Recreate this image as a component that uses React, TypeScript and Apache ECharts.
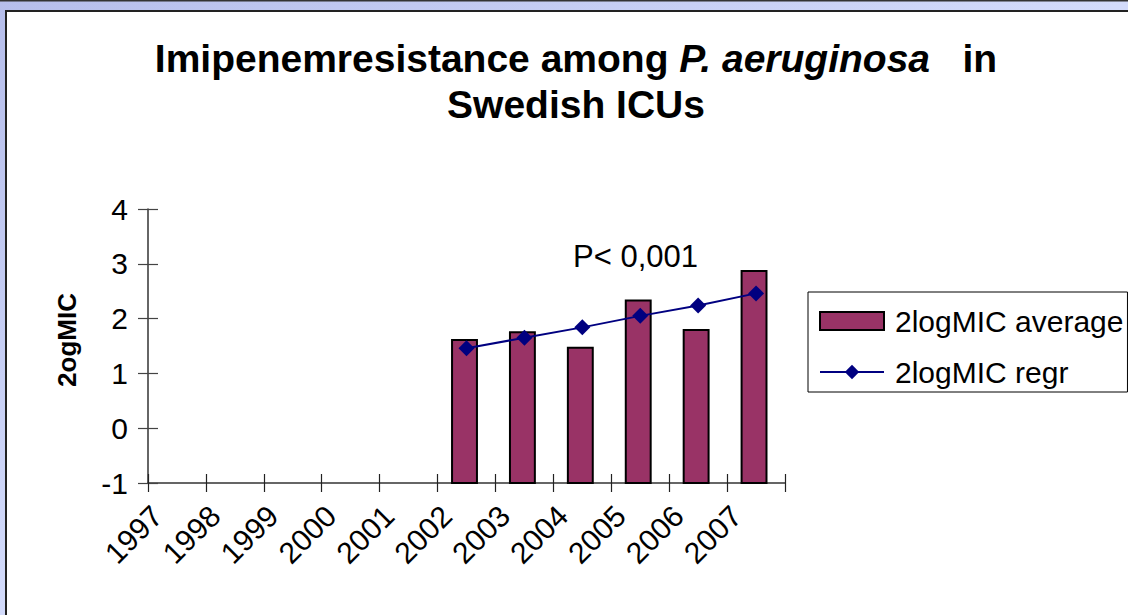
import React, { useEffect, useRef } from 'react';
import * as echarts from 'echarts';

const years = ['1997', '1998', '1999', '2000', '2001', '2002', '2003', '2004', '2005', '2006', '2007'];
const avgValues: (number | null)[] = [null, null, null, null, null, 1.61, 1.75, 1.47, 2.33, 1.79, 2.87];
const regrValues: (number | null)[] = [null, null, null, null, null, 1.46, 1.65, 1.84, 2.05, 2.24, 2.46];
const yMin = -1;
const yMax = 4;
const yInterval = 1;
const avgName = '2logMIC average';
const regrName = '2logMIC regr';
const yAxisName = '2ogMIC';
const pText = 'P< 0,001';

const FONT = '"Liberation Sans", Arial, Helvetica, sans-serif';
const BAR_COLOR = '#993366';
const LINE_COLOR = '#000080';

export default function App() {
  const ref = useRef<HTMLDivElement>(null);
  useEffect(() => {
    document.body.style.margin = '0';
    if (!ref.current) return;
    const chart = echarts.init(ref.current, null, { renderer: 'svg' });
    const barData = years
      .map((y, i) => (avgValues[i] == null ? null : [y, avgValues[i]]))
      .filter((d) => d != null);
    const option: any = {
      animation: false,
      backgroundColor: 'transparent',
      title: {
        text: '{b|Imipenemresistance among }{bi|P. aeruginosa}{b|   in}\n{b|Swedish ICUs}',
        left: 576,
        top: 35,
        padding: 0,
        textAlign: 'center',
        textStyle: {
          fontFamily: FONT,
          fontSize: 39,
          fontWeight: 'bold',
          color: '#000',
          lineHeight: 46,
          rich: {
            b: { fontFamily: FONT, fontSize: 39, fontWeight: 'bold', color: '#000', lineHeight: 46 },
            bi: { fontFamily: FONT, fontSize: 39, fontWeight: 'bold', fontStyle: 'italic', color: '#000', lineHeight: 46 },
          },
        },
      },
      graphic: [
        {
          type: 'rect',
          z: -100,
          silent: true,
          shape: { x: 0, y: 0, width: 1128, height: 615 },
          style: {
            fill: new echarts.graphic.LinearGradient(0, 0, 1, 1, [
              { offset: 0, color: '#b6beeb' },
              { offset: 0.5, color: '#d3dbfb' },
              { offset: 1, color: '#d8e0ff' },
            ]),
          },
        },
        {
          type: 'rect',
          z: -99,
          silent: true,
          shape: { x: 0, y: 0, width: 1128, height: 1.5 },
          style: { fill: '#333' },
        },
        {
          type: 'rect',
          z: -98,
          silent: true,
          shape: { x: 6, y: 11, width: 1200, height: 700 },
          style: { fill: '#fff', stroke: '#222', lineWidth: 2 },
        },
        {
          type: 'text',
          z: 10,
          x: 573,
          y: 256,
          style: {
            text: pText,
            fontFamily: FONT,
            fontSize: 31,
            fill: '#000',
            textVerticalAlign: 'middle',
          },
        },
      ],
      legend: {
        orient: 'vertical',
        left: 808,
        top: 292,
        padding: [14, 4, 5, 11],
        itemGap: 21,
        itemWidth: 64,
        itemHeight: 18,
        borderColor: '#000',
        borderWidth: 1,
        backgroundColor: '#fff',
        textStyle: { fontFamily: FONT, fontSize: 30, color: '#000', padding: [0, 0, 0, 6] },
        data: [
          { name: avgName, icon: 'rect' },
          { name: regrName },
        ],
      },
      grid: { left: 148, top: 209, width: 637, height: 274, containLabel: false },
      xAxis: [
        {
          type: 'category',
          data: years,
          boundaryGap: true,
          axisLine: { show: true, onZero: false, lineStyle: { color: '#333', width: 1.5 } },
          axisTick: { show: true, alignWithLabel: false, length: 9, lineStyle: { color: '#222', width: 1.2 } },
          axisLabel: {
            rotate: 45,
            margin: 8,
            interval: 0,
            padding: [0, 28, 0, 0],
            fontFamily: FONT,
            fontSize: 30,
            color: '#000',
          },
          splitLine: { show: false },
        },
        {
          type: 'category',
          data: years,
          position: 'bottom',
          offset: 0,
          boundaryGap: true,
          axisLine: { show: false, onZero: false },
          axisTick: { show: true, inside: true, alignWithLabel: false, length: 9, lineStyle: { color: '#222', width: 1.2 } },
          axisLabel: { show: false },
          splitLine: { show: false },
        },
      ],
      yAxis: [
        {
          type: 'value',
          min: yMin,
          max: yMax,
          interval: yInterval,
          position: 'left',
          name: yAxisName,
          nameLocation: 'middle',
          nameRotate: 90,
          nameGap: 68,
          nameTextStyle: {
            fontFamily: FONT,
            fontSize: 26,
            fontWeight: 'bold',
            color: '#000',
            padding: [0, 0, 0, 12],
          },
          axisLine: { show: true, lineStyle: { color: '#333', width: 1.5 } },
          axisTick: { show: true, length: 10, lineStyle: { color: '#444', width: 1.2 } },
          axisLabel: { margin: 20, fontFamily: FONT, fontSize: 30, color: '#000' },
          splitLine: { show: false },
        },
        {
          type: 'value',
          min: yMin,
          max: yMax,
          interval: yInterval,
          position: 'left',
          offset: 0,
          axisLine: { show: false },
          axisTick: { show: true, inside: true, length: 10, lineStyle: { color: '#444', width: 1.2 } },
          axisLabel: { show: false },
          splitLine: { show: false },
        },
      ],
      series: [
        {
          name: avgName,
          type: 'custom',
          xAxisIndex: 0,
          yAxisIndex: 0,
          encode: { x: 0, y: 1 },
          itemStyle: { color: BAR_COLOR, borderColor: '#000', borderWidth: 2 },
          data: barData,
          renderItem: (params: any, api: any) => {
            const idx = api.value(0);
            const v = api.value(1);
            const base = api.coord([idx, yMin]);
            const top = api.coord([idx, v]);
            const w = api.size([1, 0])[0] * 0.43;
            return {
              type: 'rect',
              shape: { x: top[0] - w / 2 - 2, y: top[1], width: w, height: base[1] - top[1] },
              style: { fill: BAR_COLOR, stroke: '#000', lineWidth: 2 },
            };
          },
          z: 2,
        },
        {
          name: regrName,
          type: 'line',
          xAxisIndex: 0,
          yAxisIndex: 0,
          data: regrValues,
          symbol: 'diamond',
          symbolSize: 16,
          showSymbol: true,
          connectNulls: false,
          itemStyle: { color: LINE_COLOR },
          lineStyle: { color: LINE_COLOR, width: 2 },
          z: 3,
        },
      ],
    };
    chart.setOption(option);
    return () => {
      chart.dispose();
    };
  }, []);
  return <div ref={ref} style={{ width: 1128, height: 615 }} />;
}
